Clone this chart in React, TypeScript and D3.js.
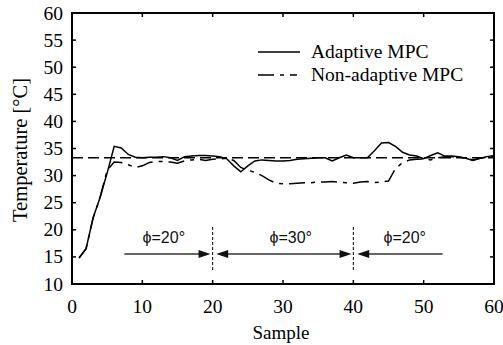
import React from "react";
import * as d3 from "d3";

const samples: number[] = d3.range(1, 61);
const adaptive: number[] = [
  14.8, 16.5, 22.2, 26.0, 30.5, 35.4, 35.1, 33.9, 33.4, 33.3,
  33.4, 33.4, 33.5, 33.3, 32.8, 33.5, 33.6, 33.7, 33.7, 33.6,
  33.5, 33.1, 31.8, 30.7, 31.8, 32.7, 32.9, 32.8, 32.7, 32.7,
  32.8, 33.0, 33.1, 33.2, 33.3, 33.3, 32.7, 33.3, 33.8, 33.3,
  33.3, 33.3, 34.6, 36.0, 36.1, 35.4, 34.3, 33.8, 33.6, 33.1,
  33.7, 34.2, 33.6, 33.6, 33.5, 33.2, 32.8, 33.2, 33.5, 33.7,
];
const nonAdaptive: number[] = [
  14.8, 16.5, 22.2, 26.0, 31.0, 32.5, 32.4, 32.0, 31.5, 31.8,
  32.4, 32.6, 32.6, 32.5, 32.3, 32.7, 32.9, 33.0, 32.8, 33.0,
  33.1, 33.2, 32.8, 31.5, 31.0, 30.6, 30.0, 29.2, 28.6, 28.5,
  28.5, 28.6, 28.7, 28.7, 28.8, 28.8, 28.9, 28.8, 28.7, 28.6,
  28.8, 28.9, 28.7, 28.8, 29.0, 31.3, 32.4, 32.9, 33.0, 33.1,
  32.9, 33.3, 33.5, 33.5, 33.4, 33.2, 32.9, 33.2, 33.4, 33.6,
];
const setpoint = 33.3;
const xTicks = [0, 10, 20, 30, 40, 50, 60];
const yTicks = [10, 15, 20, 25, 30, 35, 40, 45, 50, 55, 60];
const seriesNames = ["Adaptive MPC", "Non-adaptive MPC"];
const phaseBoundaries = [20, 40];
const phaseLabels = ["\u03D5=20°", "\u03D5=30°", "\u03D5=20°"];
const phaseLabelAt = [13.05, 31.1, 47.3];
const phaseArrows = [
  { from: 7.45, to: 19.7, headStart: false, headEnd: true },
  { from: 20.5, to: 39.75, headStart: true, headEnd: true },
  { from: 40.55, to: 52.7, headStart: true, headEnd: false },
];

export default function App() {
  const W = 503, H = 345;
  const x = d3.scaleLinear().domain([0, 60]).range([72, 494]);
  const y = d3.scaleLinear().domain([10, 60]).range([284, 13]);
  const [x0, x1] = x.range();
  const [y0, y1] = y.range();
  const line = d3.line<number>().x((_, i) => x(samples[i])).y((d) => y(d));
  const tickFont = { fontFamily: "Liberation Serif", fontSize: "19.5px" };
  const legendFont = { fontFamily: "Liberation Serif", fontSize: "19.5px" };
  const xLabelFont = { fontFamily: "Liberation Serif", fontSize: "19px" };
  const yLabelFont = { fontFamily: "Liberation Serif", fontSize: "20.5px" };
  const sans = { fontFamily: "Liberation Sans", fontSize: "16px" };
  const tick = 4;
  const aY = 254;
  const head = (tipX: number, dir: number) =>
    `M${tipX},${aY} L${tipX - dir * 12},${aY - 4} L${tipX - dir * 12},${aY + 4} Z`;
  return (
    <div style={{ position: "fixed", left: 0, top: 0 }}>
      <svg width={W} height={H} style={{ display: "block", background: "#fff" }}>
        <line x1={x0} x2={x1} y1={y(setpoint)} y2={y(setpoint)} stroke="#000" strokeWidth={1.5} strokeDasharray="11,5" />
        <path d={line(nonAdaptive) || ""} fill="none" stroke="#000" strokeWidth={1.5} strokeDasharray="16,6,4,6" />
        <path d={line(adaptive) || ""} fill="none" stroke="#000" strokeWidth={1.5} />
        {phaseBoundaries.map((b, i) => (
          <line key={"b" + i} x1={x(b)} x2={x(b)} y1={227} y2={272} stroke="#000" strokeWidth={1} strokeDasharray="3,2" />
        ))}
        {phaseArrows.map((a, i) => (
          <g key={"a" + i}>
            <line x1={x(a.from) + (a.headStart ? 8 : 0)} x2={x(a.to) - (a.headEnd ? 8 : 0)} y1={aY} y2={aY} stroke="#333" strokeWidth={1.6} />
            {a.headEnd && <path d={head(x(a.to), 1)} fill="#111" />}
            {a.headStart && <path d={head(x(a.from), -1)} fill="#111" />}
          </g>
        ))}
        {phaseLabels.map((t, i) => (
          <text key={"p" + i} x={x(phaseLabelAt[i])} y={243} textAnchor="middle" style={sans} fill="#111">{t}</text>
        ))}
        <line x1={258} x2={300} y1={52} y2={52} stroke="#000" strokeWidth={1.5} />
        <text x={311} y={58} style={legendFont}>{seriesNames[0]}</text>
        <line x1={258} x2={297} y1={75} y2={75} stroke="#000" strokeWidth={1.5} strokeDasharray="16,6,4,6" />
        <text x={311} y={81} style={legendFont}>{seriesNames[1]}</text>
        <rect x={x0} y={y1} width={x1 - x0} height={y0 - y1} fill="none" stroke="#000" strokeWidth={2} />
        {xTicks.map((t) => (
          <g key={"x" + t}>
            <line x1={x(t)} x2={x(t)} y1={y0} y2={y0 - tick} stroke="#000" strokeWidth={1.5} />
            <line x1={x(t)} x2={x(t)} y1={y1} y2={y1 + tick} stroke="#000" strokeWidth={1.5} />
            <text x={x(t)} y={313} textAnchor="middle" style={tickFont}>{t}</text>
          </g>
        ))}
        {yTicks.map((t) => (
          <g key={"y" + t}>
            <line x1={x0} x2={x0 + tick} y1={y(t)} y2={y(t)} stroke="#000" strokeWidth={1.5} />
            <line x1={x1} x2={x1 - tick} y1={y(t)} y2={y(t)} stroke="#000" strokeWidth={1.5} />
            <text x={63} y={y(t) + 6.5} textAnchor="end" style={tickFont}>{t}</text>
          </g>
        ))}
        <text x={281} y={339} textAnchor="middle" style={xLabelFont}>Sample</text>
        <text transform={`translate(27,150) rotate(-90)`} textAnchor="middle" style={yLabelFont}>Temperature [°C]</text>
      </svg>
    </div>
  );
}
